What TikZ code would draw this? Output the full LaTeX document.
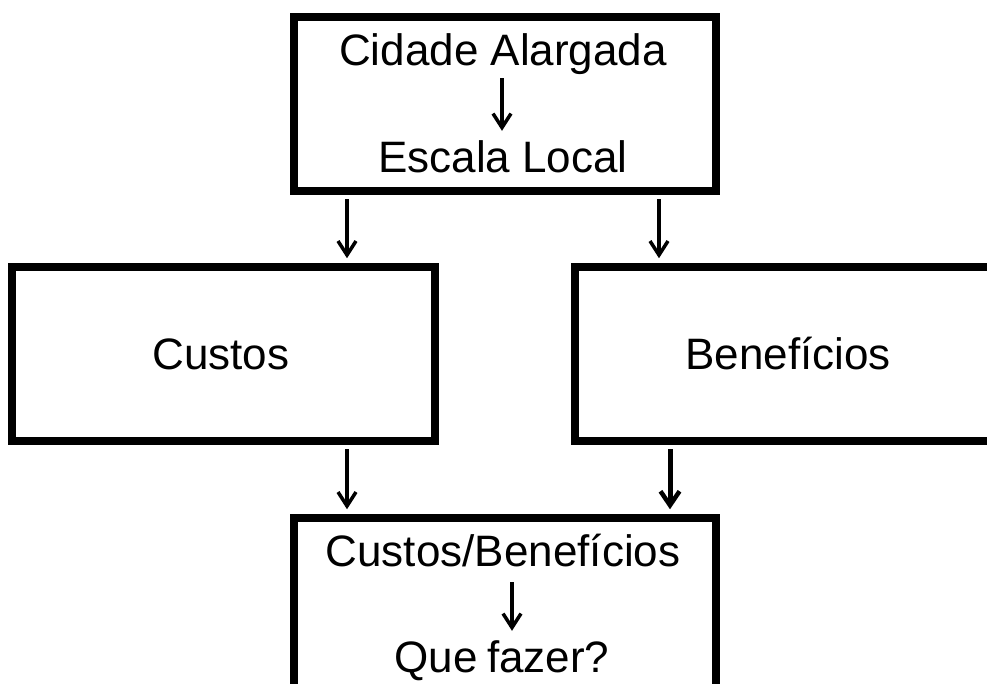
\documentclass[tikz,border=0pt]{standalone}
\usepackage{fontspec}
\setmainfont{Liberation Sans}
\usetikzlibrary{arrows.meta}
\begin{document}
\begin{tikzpicture}[x=1pt,y=-1pt,
  box/.style={draw=black, line width=8.5pt, fill=white, inner sep=0pt},
  txt/.style={inner sep=0pt, anchor=base, text height=31pt, text depth=9pt,
    font=\fontsize{44}{52}\selectfont},
  conn/.style={line width=3.3pt, -{Straight Barb[length=14pt,width=18pt,line width=3.5pt]}},
  thickconn/.style={line width=5pt, -{Straight Barb[length=14pt,width=19pt,line width=4.5pt]}}]
\useasboundingbox (0,0) rectangle (987,684);
\clip (0,0) rectangle (987,684);
\fill[white] (0,0) rectangle (987,684);
% boxes
\node[box, minimum width=422pt, minimum height=174pt] (top) at (505,104) {};
\node[box, minimum width=423pt, minimum height=174pt] (custos) at (223.5,354) {};
\node[box, minimum width=426pt, minimum height=174pt] (benef) at (788,354) {};
\node[box, minimum width=422pt, minimum height=200pt] (bottom) at (505,618) {};
% texts
\node[txt] (ca) at (503,66) {Cidade Alargada};
\node[txt] (el) at (503,173) {Escala Local};
\node[txt] (cu) at (221,369) {Custos};
\node[txt] (be) at (788,369) {Benefícios};
\node[txt] (cb) at (503,566) {Custos/Benefícios};
\node[txt] (qf) at (502,672) {Que\hspace{-3pt} fazer?};
% inner arrows
\draw[conn, shorten <=3pt, shorten >=11pt] ([xshift=-1pt]ca.south) -- ([xshift=-1pt]ca.south |- el.north);
\draw[conn, shorten <=7pt, shorten >=10pt] ([xshift=9pt]cb.south) -- ([xshift=9pt]cb.south |- qf.north);
% connectors
\draw[conn, shorten <=4pt, shorten >=4.5pt] ([xshift=-158pt]top.south) -- ([xshift=-158pt]top.south |- custos.north);
\draw[conn, shorten <=4pt, shorten >=4.5pt] ([xshift=154pt]top.south) -- ([xshift=154pt]top.south |- benef.north);
\draw[conn, shorten <=4pt, shorten >=4.5pt] ([xshift=123.5pt]custos.south) -- ([xshift=123.5pt]custos.south |- bottom.north);
\draw[thickconn, shorten <=4pt, shorten >=4.5pt] ([xshift=-118pt]benef.south) -- ([xshift=-118pt]benef.south |- bottom.north);
\end{tikzpicture}
\end{document}
